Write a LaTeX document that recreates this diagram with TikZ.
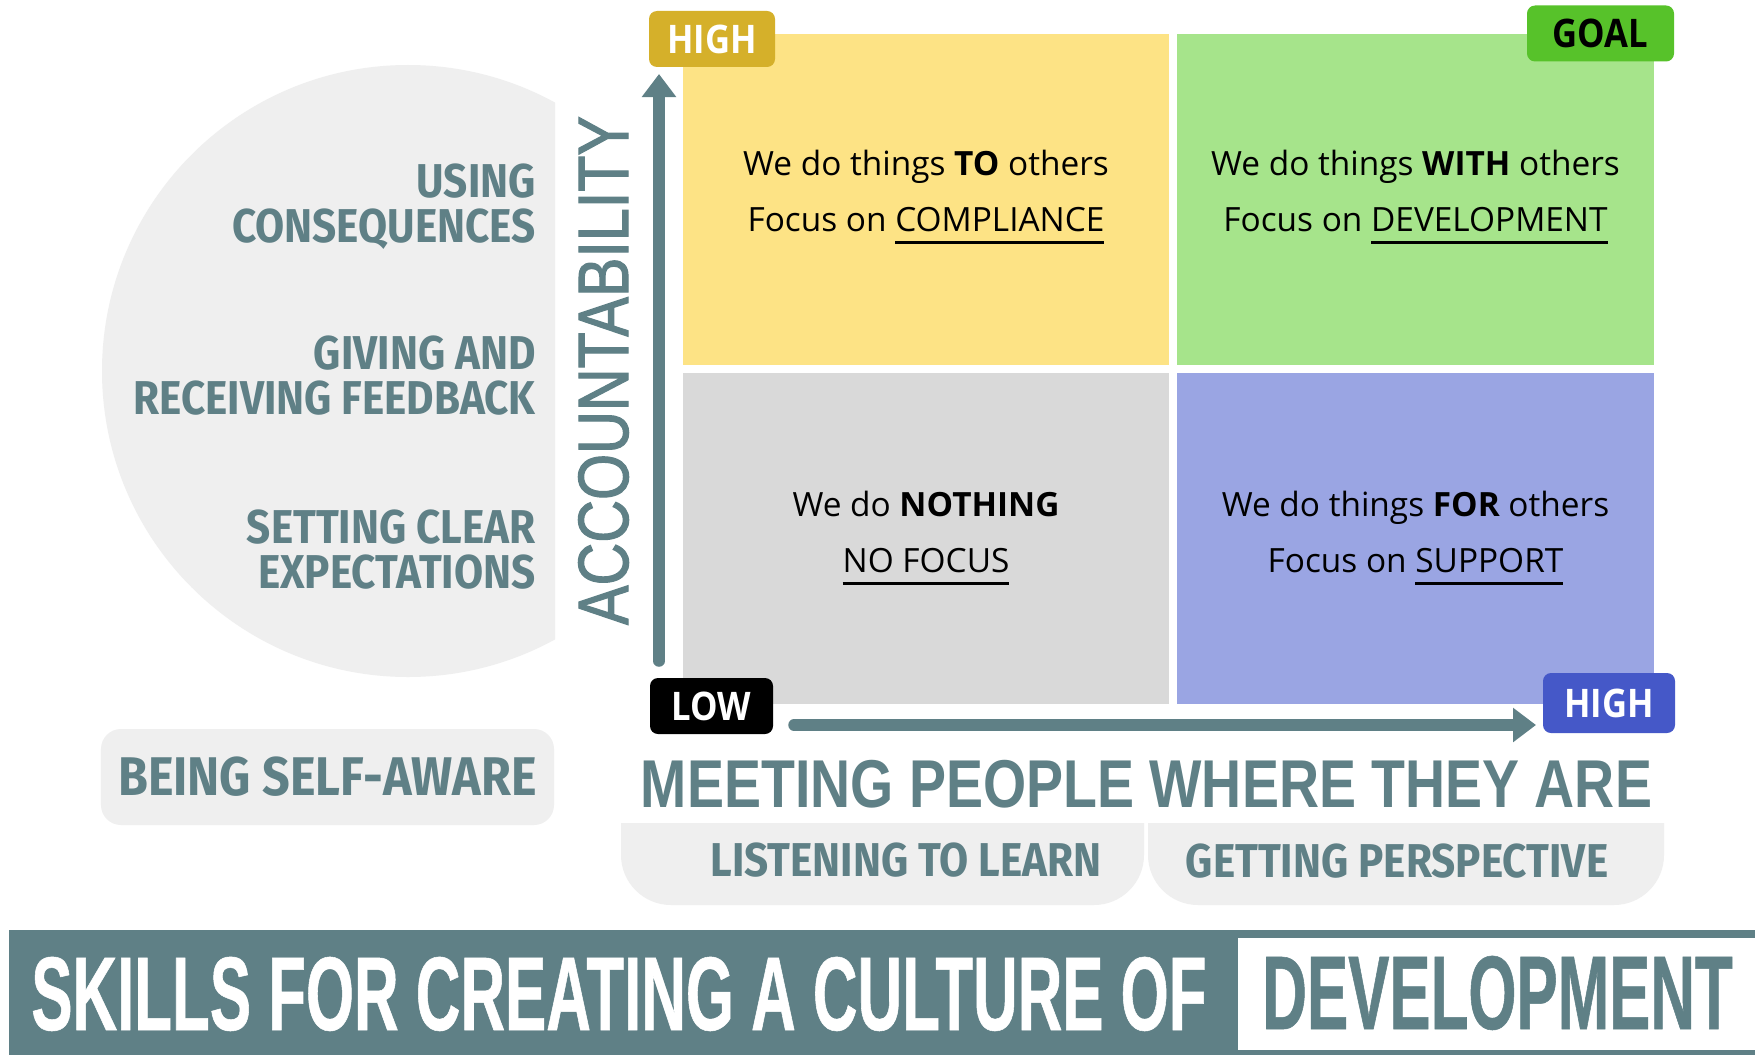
\documentclass[tikz,border=0pt]{standalone}
\usepackage{fontspec}
\setmainfont{Open Sans}
\newfontfamily\handfont[FakeStretch=0.89]{Fira Sans}
\newfontfamily\axisfont[FakeStretch=0.82]{Liberation Sans}
\newfontfamily\accfont[FakeStretch=0.83,FakeBold=1.5]{Liberation Sans}
\newfontfamily\titlefont[FakeStretch=0.59,FakeBold=0.5]{Liberation Sans}
\newfontfamily\badgefont[FakeStretch=0.88]{Open Sans}
\usepackage{tikz}
\usetikzlibrary{positioning, arrows.meta}

\definecolor{tealc}{HTML}{5F8086}
\definecolor{softgrey}{HTML}{EFEFEF}
\definecolor{yellowq}{HTML}{FDE385}
\definecolor{greenq}{HTML}{A6E48B}
\definecolor{greyq}{HTML}{D9D9D9}
\definecolor{blueq}{HTML}{9AA5E3}
\definecolor{goldc}{HTML}{D5B02A}
\definecolor{goalc}{HTML}{57C22A}
\definecolor{bluec}{HTML}{4558C8}

% underlined key word of a quadrant
\newcommand{\keyul}[1]{\setbox0\hbox{#1}\rlap{\rule[-7.2pt]{\wd0}{2pt}}\box0}

\begin{document}
\begin{tikzpicture}[x=0.2mm, y=-0.2mm,
  quad/.style={inner sep=0pt, minimum height=66.2mm},
  quadtext/.style={align=center, inner sep=0pt, font=\fontsize{19}{32}\selectfont},
  badge/.style={rounded corners=1.6mm, inner sep=0pt, minimum height=11.2mm,
    font=\badgefont\bfseries\fontsize{22.4}{24}\selectfont},
  skill/.style={text=tealc, align=right, inner sep=0pt,
    font=\handfont\bfseries\fontsize{27}{25.6}\selectfont},
  axisarrow/.style={draw=tealc, line width=2.3mm, line cap=round,
    -{Triangle[width=6.6mm,length=4.6mm]}}]
\useasboundingbox (0,0) rectangle (1755,1055);
\fill[white] (0,0) rectangle (1755,1055);

% half disc behind the accountability skills
\begin{scope}
\clip (0,0) rectangle (555,700);
\fill[softgrey] (408,371) circle[radius=306];
\end{scope}

% the four quadrants
\node[quad, fill=yellowq, minimum width=97.2mm] (qto) at (926,199.5) {};
\node[quad, fill=greenq, minimum width=95.4mm] (qwith) at (1415.5,199.5) {};
\node[quad, fill=greyq, minimum width=97.2mm] (qnot) at (926,538.5) {};
\node[quad, fill=blueq, minimum width=95.4mm] (qfor) at (1415.5,538.5) {};

\node[quadtext, below=23.2mm of qto.north] (tto)
  {We do things \textbf{TO} others\\Focus on \keyul{COMPLIANCE}};
\node[quadtext, below=23.2mm of qwith.north] (twith)
  {We do things \textbf{WITH} others\\Focus on \keyul{DEVELOPMENT}};
\node[quadtext, below=23.6mm of qnot.north] (tnot)
  {We do \textbf{NOTHING}\\\keyul{NO FOCUS}};
\node[quadtext, below=23.6mm of qfor.north] (tfor)
  {We do things \textbf{FOR} others\\Focus on \keyul{SUPPORT}};

% corner badges
\node[badge, fill=goldc, text=white, minimum width=25.2mm] (hiy) at (712,39) {HIGH};
\node[badge, fill=goalc, text=black, minimum width=29.4mm] (goal) at (1600.5,33.5) {GOAL};
\node[badge, fill=black, text=white, minimum width=24.6mm] (low) at (711.5,706) {LOW};
\node[badge, fill=bluec, text=white, minimum width=26.4mm, minimum height=12mm] (hix) at (1609,703) {HIGH};

% axes
\coordinate (ybot) at (659,661);
\coordinate (ytop) at (659,74);
\coordinate (xleft) at (794,725);
\coordinate (xright) at (1536,725);
\draw[axisarrow] (ybot) -- (ytop);
\draw[axisarrow] (xleft) -- (xright);

\node[rotate=90, text=tealc, inner sep=0pt,
  font=\accfont\fontsize{40.6}{42}\selectfont] (acc) at (603.5,370.5) {ACCOUNTABILITY};
\node[text=tealc, inner sep=0pt, anchor=base,
  font=\axisfont\bfseries\fontsize{38.5}{40}\selectfont] (meet) at (1146.5,807)
  {MEETING PEOPLE WHERE THEY ARE};

% skills
\node[skill, anchor=north east] (conseq) at (536,163) {USING\\CONSEQUENCES};
\node[skill, anchor=north east] (feedback) at (536,335) {GIVING AND\\RECEIVING FEEDBACK};
\node[skill, anchor=north east] (expect) at (536,509) {SETTING CLEAR\\EXPECTATIONS};

\node[skill, fill=softgrey, rounded corners=4mm, minimum width=90.6mm, minimum height=19.2mm,
  font=\handfont\bfseries\fontsize{31}{34}\selectfont] (aware) at (327.5,777) {BEING SELF-AWARE};

\fill[softgrey] (621,823) -- (1144,823) [rounded corners=10mm] -- (1144,905) -- (621,905)
  [sharp corners] -- cycle;
\fill[softgrey] (1148,823) -- (1664,823) [rounded corners=10mm] -- (1664,905) -- (1148,905)
  [sharp corners] -- cycle;
\node[skill, anchor=base] (listen) at (906,876) {LISTENING TO LEARN};
\node[skill, anchor=base] (persp) at (1397,877) {GETTING PERSPECTIVE};

% title banner
\fill[tealc] (9,930) rectangle (1755,1055);
\fill[white] (1238,938) rectangle (1755,1050);
\node[text=white, inner sep=0pt, anchor=base west,
  font=\titlefont\bfseries\fontsize{59.6}{60}\selectfont] (title) at (31,1030)
  {SKILLS FOR CREATING A CULTURE OF};
\node[text=tealc, inner sep=0pt, anchor=base west,
  font=\titlefont\bfseries\fontsize{59.6}{60}\selectfont] (titleword) at (1262,1029)
  {DEVELOPMENT};
\end{tikzpicture}
\end{document}
